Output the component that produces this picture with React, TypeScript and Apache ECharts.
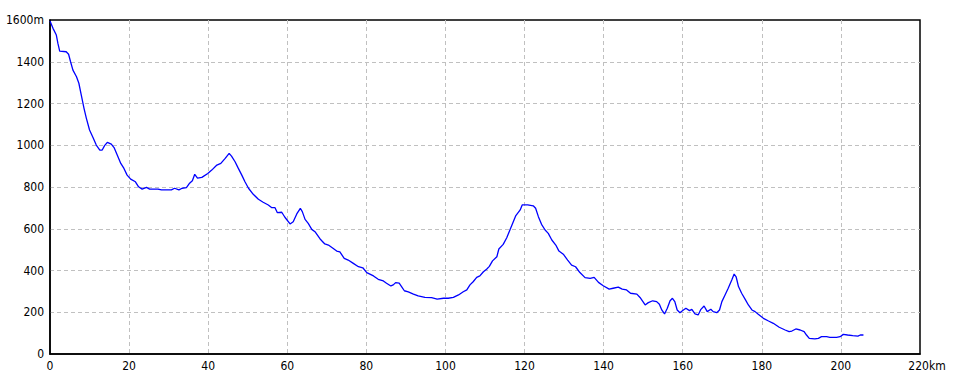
import React, { useEffect, useRef } from "react";
import * as echarts from "echarts";

const distanceKm = [
  0, 0.76, 1.6, 2.0, 2.45, 4.1, 4.7, 5.2, 5.8, 6.7, 7.3, 7.9, 8.6, 9.2, 10.0, 10.9, 11.7, 12.6, 13.2, 13.8,
  14.5, 15.5, 16.2, 17.0, 17.9, 18.7, 19.5, 20.4, 21.6, 22.4, 23.3, 24.4, 25.2, 27.3, 28.2, 30.7, 31.5, 32.6,
  33.4, 34.5, 35.3, 36.0, 36.6, 37.3, 38.4, 39.9, 40.9, 42.2, 43.2, 44.3, 45.3, 45.9, 46.8, 47.5, 48.5, 49.3,
  50.2, 51.4, 52.7, 53.9, 55.2, 56.1, 56.9, 57.5, 58.6, 59.4, 60.7, 61.5, 62.4, 63.3, 63.8, 64.5, 65.3, 66.2,
  67.0, 68.3, 69.5, 70.4, 71.2, 72.5, 73.3, 74.4, 75.4, 76.7, 78.0, 79.1, 80.1, 81.8, 83.0, 84.3, 85.1, 86.2,
  86.8, 87.4, 88.3, 88.9, 89.6, 90.6, 91.9, 93.1, 94.8, 96.5, 97.9, 99.5, 100.7, 102.0, 103.3, 104.5, 105.4,
  106.2, 107.0, 107.9, 108.7, 109.6, 110.4, 111.1, 111.9, 113.0, 113.5, 114.6, 115.5, 116.3, 117.0, 117.8,
  118.9, 119.4, 120.8, 122.2, 122.8, 123.5, 124.3, 125.2, 126.0, 126.9, 127.9, 128.7, 129.8, 130.9, 131.9,
  132.9, 134.0, 135.3, 136.6, 137.6, 138.7, 139.9, 141.4, 142.4, 143.7, 144.7, 145.8, 146.8, 148.4, 149.2,
  150.5, 151.3, 152.4, 153.4, 154.1, 154.7, 155.4, 156.1, 156.8, 157.4, 158.0, 158.6, 159.3, 160.0, 160.8,
  161.7, 162.3, 163.1, 163.9, 164.6, 165.4, 166.2, 167.1, 167.7, 168.6, 169.3, 169.9, 170.7, 171.5, 172.4,
  173.0, 173.5, 174.1, 174.9, 175.8, 176.6, 177.5, 178.3, 179.1, 180.4, 181.7, 182.9, 184.4, 185.9, 186.9,
  187.6, 188.6, 189.7, 190.7, 191.3, 192.0, 193.4, 194.3, 195.1, 196.4, 197.2, 198.9, 199.8, 200.6, 201.7,
  203.0, 204.3, 204.9, 205.7,
];

const elevationM = [
  1595, 1560, 1528, 1488, 1451, 1448, 1436, 1400, 1360, 1328, 1297, 1241, 1177, 1129, 1073, 1036, 1001, 977,
  977, 998, 1014, 1005, 989, 953, 913, 889, 857, 838, 825, 801, 790, 798, 790, 790, 786, 786, 794, 786, 794,
  797, 818, 830, 861, 843, 846, 865, 881, 905, 913, 937, 961, 948, 921, 894, 857, 825, 794, 765, 741, 727,
  714, 701, 701, 677, 679, 655, 623, 634, 671, 698, 682, 645, 626, 597, 586, 551, 527, 522, 511, 493, 489,
  458, 450, 434, 418, 413, 390, 374, 358, 350, 339, 326, 331, 342, 339, 323, 303, 298, 287, 278, 271, 270,
  263, 267, 267, 271, 283, 298, 307, 331, 346, 367, 374, 394, 406, 420, 446, 466, 503, 525, 557, 594, 626,
  663, 690, 714, 714, 710, 698, 658, 621, 594, 578, 546, 522, 493, 478, 450, 426, 418, 390, 366, 362, 367,
  343, 327, 311, 315, 320, 311, 307, 291, 287, 271, 235, 246, 255, 251, 238, 211, 192, 219, 255, 267, 251,
  211, 198, 208, 219, 208, 214, 192, 187, 214, 230, 203, 214, 203, 198, 211, 251, 283, 315, 354, 383, 370,
  323, 291, 262, 235, 211, 203, 190, 171, 158, 147, 128, 115, 107, 110, 120, 115, 107, 91, 75, 72, 75, 83,
  83, 80, 80, 83, 94, 91, 88, 86, 91, 91,
];

const xTicks = [0, 20, 40, 60, 80, 100, 120, 140, 160, 180, 200, 220];
const yTicks = [0, 200, 400, 600, 800, 1000, 1200, 1400, 1600];

const FONT = "'Liberation Sans Narrow', 'DejaVu Sans Condensed', 'Liberation Sans', sans-serif";

export default function App() {
  const ref = useRef<HTMLDivElement>(null);

  useEffect(() => {
    if (!ref.current) return;
    const chart = echarts.init(ref.current, null, { renderer: "svg" });
    const data = distanceKm.map((d, i) => [d, elevationM[i]]);
    const xMax = xTicks[xTicks.length - 1];
    const yMax = yTicks[yTicks.length - 1];
    const split = {
      show: true,
      showMinLine: false,
      showMaxLine: false,
      lineStyle: { color: "#c0c0c0", type: [4, 3], width: 1 },
    };
    chart.setOption({
      animation: false,
      backgroundColor: "#ffffff",
      grid: {
        left: 50,
        right: 40,
        top: 20,
        bottom: 30,
        show: true,
        borderColor: "#000000",
        borderWidth: 1.5,
        backgroundColor: "#ffffff",
      },
      xAxis: {
        type: "value",
        min: 0,
        max: xMax,
        interval: 20,
        axisLine: { show: true, lineStyle: { color: "#000000", width: 1.5 } },
        axisTick: { show: false },
        splitLine: split,
        axisLabel: {
          color: "#000000",
          fontFamily: FONT,
          fontSize: 12,
          margin: 6,
          formatter: (v: number) => (v === xMax ? "{last|" + v + "km}" : String(v)),
          rich: {
            last: { color: "#000000", fontFamily: FONT, fontSize: 12, padding: [0, 0, 0, 14] },
          },
        },
      },
      yAxis: {
        type: "value",
        min: 0,
        max: yMax,
        interval: 200,
        axisLine: { show: true, lineStyle: { color: "#000000", width: 1.5 } },
        axisTick: { show: false },
        splitLine: split,
        axisLabel: {
          color: "#000000",
          fontFamily: FONT,
          fontSize: 12,
          margin: 6,
          formatter: (v: number) => (v === yMax ? v + "m" : String(v)),
        },
      },
      series: [
        {
          type: "line",
          data,
          showSymbol: false,
          symbol: "none",
          lineStyle: { color: "#0000ff", width: 1.3 },
          silent: true,
        },
      ],
    });
    return () => chart.dispose();
  }, []);

  return (
    <div
      ref={ref}
      style={{ position: "fixed", left: 0, top: 0, width: 960, height: 384, background: "#ffffff" }}
    />
  );
}
